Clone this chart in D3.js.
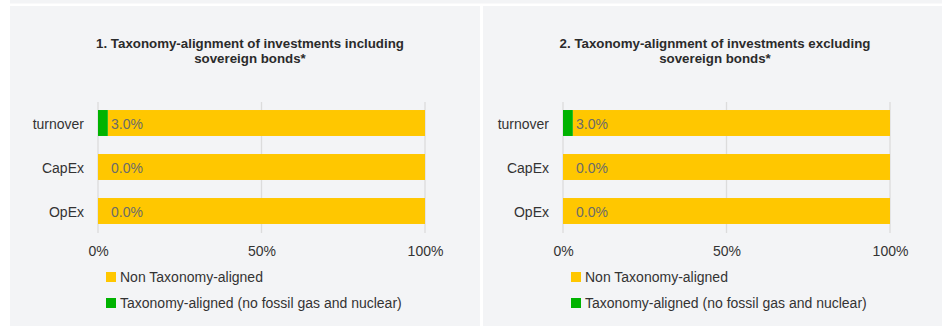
<!DOCTYPE html>
<html>
<head>
<meta charset="utf-8">
<script src="https://cdn.jsdelivr.net/npm/d3@7"></script>
<style>
  html, body { margin: 0; padding: 0; background: #ffffff; }
  svg { display: block; font-family: "Liberation Sans", Arial, sans-serif; }
</style>
</head>
<body>
<svg id="chart" width="942" height="326"></svg>
<script>
// Category names (one bar per KPI)
const categories = ["turnover", "CapEx", "OpEx"];

// Panel 1: including sovereign bonds (percent)
const alignedIncl = [3.0, 0.0, 0.0];
const nonAlignedIncl = [97.0, 100.0, 100.0];

// Panel 2: excluding sovereign bonds (percent)
const alignedExcl = [3.0, 0.0, 0.0];
const nonAlignedExcl = [97.0, 100.0, 100.0];

// Axis ticks
const xTicks = [0, 50, 100];

// Series names and panel titles
const seriesNames = ["Non Taxonomy-aligned", "Taxonomy-aligned (no fossil gas and nuclear)"];
const panelTitles = [
  ["1. Taxonomy-alignment of investments including", "sovereign bonds*"],
  ["2. Taxonomy-alignment of investments excluding", "sovereign bonds*"]
];

const colors = { aligned: "#00b300", non: "#ffc700" };
const panelBg = "#f3f4f6";
const fontFamily = "Liberation Sans, Arial, sans-serif";

const svg = d3.select("#chart");

// top strip and the two panel backgrounds
svg.append("rect").attr("x", 10).attr("y", 0).attr("width", 932).attr("height", 3.5).attr("fill", panelBg);
svg.append("rect").attr("x", 10).attr("y", 6).attr("width", 470).attr("height", 320).attr("fill", panelBg);
svg.append("rect").attr("x", 483).attr("y", 6).attr("width", 459).attr("height", 320).attr("fill", panelBg);

const panels = [
  { dx: 0, title: panelTitles[0], aligned: alignedIncl, non: nonAlignedIncl },
  { dx: 465, title: panelTitles[1], aligned: alignedExcl, non: nonAlignedExcl }
];

panels.forEach(p => {
  const g = svg.append("g").attr("transform", `translate(${p.dx},0)`);

  const x = d3.scaleLinear().domain([0, 100]).range([98, 425]);
  const y = d3.scaleBand().domain(categories).range([101, 233])
    .paddingInner(0.41).paddingOuter(0.205);

  // title
  const t = g.append("text")
    .attr("x", 250).attr("y", 47.5)
    .attr("text-anchor", "middle")
    .attr("font-size", 13.3).attr("font-weight", "bold").attr("fill", "#2b2b2b");
  p.title.forEach((line, i) => {
    t.append("tspan").attr("x", 250).attr("dy", i === 0 ? 0 : 15).text(line);
  });

  // vertical gridlines
  g.selectAll("line.grid").data(xTicks).enter().append("line")
    .attr("x1", d => x(d)).attr("x2", d => x(d))
    .attr("y1", 102).attr("y2", 233)
    .attr("stroke", "#dcdcdc").attr("stroke-width", 1.3);

  // x axis tick labels
  const xAxis = d3.axisBottom(x).tickValues(xTicks).tickFormat(d => d + "%").tickSize(0).tickPadding(0);
  const ax = g.append("g").attr("transform", "translate(0,246)").call(xAxis);
  ax.select(".domain").remove();
  ax.selectAll("text").attr("font-size", 14).attr("fill", "#333")
    .attr("font-family", fontFamily);

  // y axis category labels
  const yAxis = d3.axisLeft(y).tickSize(0).tickPadding(14);
  const ay = g.append("g").attr("transform", "translate(98,1.5)").call(yAxis);
  ay.select(".domain").remove();
  ay.selectAll("text").attr("font-size", 14).attr("fill", "#333")
    .attr("font-family", fontFamily);

  const rows = categories.map((c, i) => ({ c, a: p.aligned[i], n: p.non[i] }));

  // stacked bars: aligned first, then non-aligned
  g.selectAll("rect.non").data(rows).enter().append("rect")
    .attr("x", d => x(d.a)).attr("y", d => y(d.c))
    .attr("width", d => x(d.a + d.n) - x(d.a)).attr("height", y.bandwidth())
    .attr("fill", colors.non);
  g.selectAll("rect.al").data(rows).enter().append("rect")
    .attr("x", x(0)).attr("y", d => y(d.c))
    .attr("width", d => x(d.a) - x(0)).attr("height", y.bandwidth())
    .attr("fill", colors.aligned);

  // aligned value labels
  g.selectAll("text.val").data(rows).enter().append("text")
    .attr("x", x(0) + 13).attr("y", d => y(d.c) + y.bandwidth() / 2 + 6)
    .attr("font-size", 14).attr("fill", "#6b6b6b")
    .text(d => d.a.toFixed(1) + "%");

  // legend
  const legendColors = [colors.non, colors.aligned];
  seriesNames.forEach((name, i) => {
    const ly = 272 + i * 26;
    g.append("rect").attr("x", 106).attr("y", ly).attr("width", 10).attr("height", 10)
      .attr("fill", legendColors[i]);
    g.append("text").attr("x", 120).attr("y", ly + 9.5)
      .attr("font-size", 14).attr("fill", "#333").text(name);
  });
});
</script>
</body>
</html>
